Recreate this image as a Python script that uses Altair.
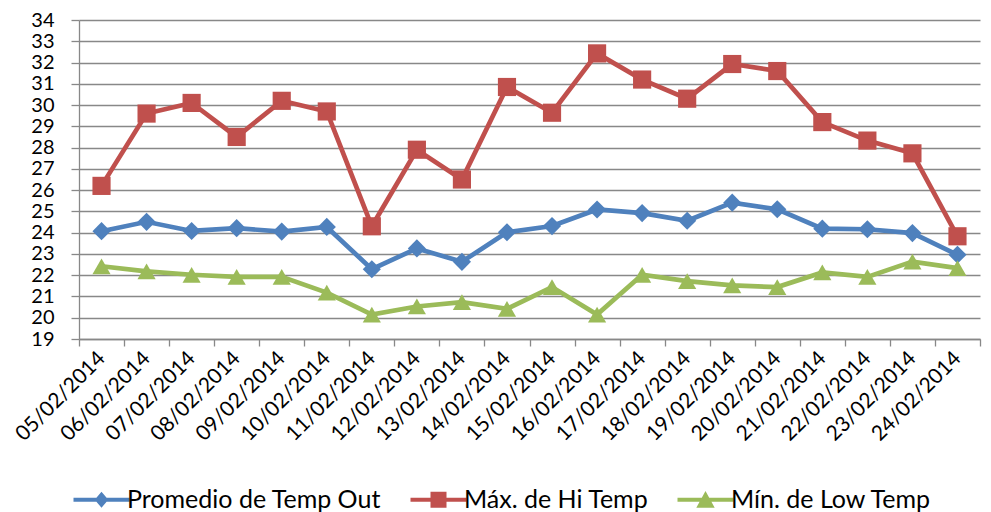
import altair as alt
import pandas as pd

dates = ["05/02/2014", "06/02/2014", "07/02/2014", "08/02/2014", "09/02/2014",
         "10/02/2014", "11/02/2014", "12/02/2014", "13/02/2014", "14/02/2014",
         "15/02/2014", "16/02/2014", "17/02/2014", "18/02/2014", "19/02/2014",
         "20/02/2014", "21/02/2014", "22/02/2014", "23/02/2014", "24/02/2014"]

series_names = ["Promedio de Temp Out", "Máx. de Hi Temp", "Mín. de Low Temp"]

promedio = [24.07, 24.51, 24.08, 24.21, 24.05, 24.27, 22.28, 23.26, 22.63, 24.02,
            24.31, 25.09, 24.92, 24.56, 25.41, 25.10, 24.19, 24.16, 23.98, 22.96]
maximo = [26.2, 29.6, 30.1, 28.5, 30.2, 29.7, 24.3, 27.9, 26.5, 30.85,
          29.64, 32.43, 31.2, 30.3, 31.93, 31.6, 29.2, 28.33, 27.73, 23.83]
minimo = [22.42, 22.18, 22.02, 21.92, 21.92, 21.18, 20.15, 20.53, 20.73, 20.42,
          21.44, 20.15, 22.02, 21.72, 21.52, 21.44, 22.13, 21.92, 22.64, 22.33]

colors = ["#4F81BD", "#C0504D", "#9BBB59"]
shapes = ["diamond", "square", "triangle-up"]
legend_paths = [
    "M-3.5,-0.25L3.5,-0.25L3.5,0.25L-3.5,0.25Z M0,-1L0.85,0L0,1L-0.85,0Z",
    "M-3.5,-0.25L3.5,-0.25L3.5,0.25L-3.5,0.25Z M-1,-1L1,-1L1,1L-1,1Z",
    "M-3.5,-0.25L3.5,-0.25L3.5,0.25L-3.5,0.25Z M0,-1.1L1.15,1L-1.15,1Z",
]
y_ticks = list(range(19, 35))

rows = []
for name, vals in zip(series_names, [promedio, maximo, minimo]):
    for d, v in zip(dates, vals):
        rows.append({"Fecha": d, "Serie": name, "Valor": v})
df = pd.DataFrame(rows)

FONT = "Lato"
GRAY = "#888888"

x_enc = alt.X(
    "Fecha:N",
    sort=dates,
    bandPosition=0.5,
    scale=alt.Scale(type="band", paddingInner=0, paddingOuter=0),
    axis=alt.Axis(
        title=None,
        labelAngle=-45,
        labelAlign="right",
        labelBaseline="middle",
        labelPadding=9,
        labelFont=FONT,
        labelFontSize=21,
        labelColor="#000000",
        labelOverlap=False,
        labelBound=False,
        labelFlush=False,
        tickBand="extent",
        tickSize=7,
        tickColor=GRAY,
        tickWidth=1.3,
        domainColor=GRAY,
        domainWidth=1.3,
        grid=False,
    ),
)

y_enc = alt.Y(
    "Valor:Q",
    scale=alt.Scale(domain=[19, 34], nice=False, zero=False),
    axis=alt.Axis(
        title=None,
        values=y_ticks,
        labelFont=FONT,
        labelFontSize=20,
        labelColor="#000000",
        labelPadding=17,
        labelOverlap=False,
        labelBound=False,
        labelFlush=False,
        tickSize=8,
        tickColor=GRAY,
        tickWidth=1.3,
        domainColor=GRAY,
        domainWidth=1.3,
        grid=True,
        gridColor=GRAY,
        gridWidth=1.3,
    ),
)

color_scale = alt.Scale(domain=series_names, range=colors)

legend = alt.Legend(
    title=None,
    orient="none",
    legendX=-7,
    legendY=467,
    direction="horizontal",
    columns=3,
    columnPadding=27,
    padding=0,
    symbolSize=256,
    symbolOffset=17,
    symbolStrokeWidth=0,
    labelOffset=13,
    labelFont=FONT,
    labelFontSize=25,
    labelColor="#000000",
    labelLimit=400,
)

lines = alt.Chart(df).mark_line(strokeWidth=4.7).encode(
    x=x_enc,
    y=y_enc,
    color=alt.Color("Serie:N", scale=color_scale, legend=None),
)

points = alt.Chart(df).mark_point(filled=True, opacity=1, size=330).encode(
    x=x_enc,
    y=y_enc,
    color=alt.Color("Serie:N", scale=color_scale, legend=None),
    shape=alt.Shape("Serie:N", scale=alt.Scale(domain=series_names, range=shapes), legend=None),
)

# legend-only layer: no rows pass the filter, the legend comes from the scales
legend_layer = alt.Chart(df).transform_filter("datum.Valor < 0").mark_point(
    filled=True, opacity=1
).encode(
    color=alt.Color("Serie:N", scale=color_scale, legend=legend),
    shape=alt.Shape("Serie:N", scale=alt.Scale(domain=series_names, range=legend_paths), legend=legend),
)

chart = alt.layer(lines, points, legend_layer).resolve_scale(
    color="independent", shape="independent"
).properties(
    width=901,
    height=319,
    autosize=alt.AutoSizeParams(type="none"),
    padding={"left": 71, "top": 12, "right": 3, "bottom": 173},
    background="#ffffff",
).configure_view(stroke=None)

chart.save("out.html", embed_options={"renderer": "svg", "actions": False})
